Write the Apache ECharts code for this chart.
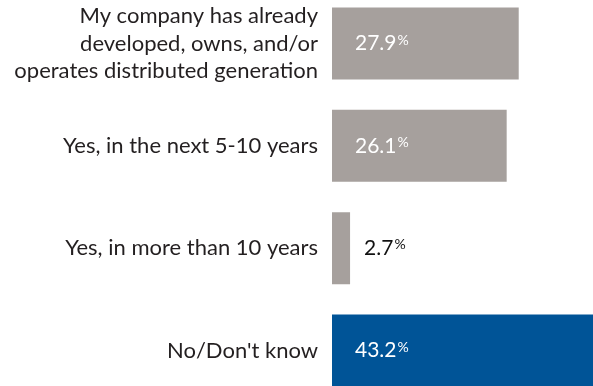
<!DOCTYPE html>
<html>
<head>
<meta charset="utf-8">
<script src="https://cdn.jsdelivr.net/npm/echarts@6/dist/echarts.min.js"></script>
<style>
  html, body { margin: 0; padding: 0; background: #fff; }
  #chart { width: 593px; height: 386px; }
</style>
</head>
<body>
<div id="chart"></div>
<script>
// Survey answers, top to bottom
const categories = [
  'My company has already\ndeveloped, owns, and/or\noperates distributed generation',
  'Yes, in the next 5-10 years',
  'Yes, in more than 10 years',
  "No/Don't know"
];
const shares = [27.9, 26.1, 2.7, 43.2];
const barColors = ['#a6a09d', '#a6a09d', '#a6a09d', '#005497'];
// Bars too short to hold their label get it outside, in dark text
const outsideLabel = [false, false, true, false];

const FONT = 'Lato';

const chart = echarts.init(document.getElementById('chart'), null, { renderer: 'canvas' });

function richStyle(color) {
  return {
    v: { color: color, fontSize: 21, fontFamily: FONT },
    p: { color: color, fontSize: 14, fontFamily: FONT, padding: [0, 0, 7, 1] }
  };
}

const data = shares.map((v, i) => ({
  value: v,
  itemStyle: { color: barColors[i] },
  label: outsideLabel[i]
    ? { position: 'right', distance: 14, rich: richStyle('#111') }
    : { position: 'insideLeft', distance: 23, rich: richStyle('#fff') }
}));

chart.setOption({
  animation: false,
  backgroundColor: '#ffffff',
  // categories sit on the grid edges, so the first and last bar centres
  // define the top and bottom of the grid
  grid: { left: 332, right: 0, top: 43.5, height: 307, containLabel: false },
  xAxis: {
    type: 'value', min: 0, max: 39,
    show: false
  },
  yAxis: {
    type: 'category',
    inverse: true,
    boundaryGap: false,
    data: categories,
    axisLine: { show: false },
    axisTick: { show: false },
    splitLine: { show: false },
    axisLabel: {
      margin: 14,
      color: '#231f20',
      fontFamily: FONT,
      fontSize: 22,
      lineHeight: 27.5,
      align: 'right'
    }
  },
  series: [{
    type: 'bar',
    data: data,
    barWidth: 72,
    clip: false,
    label: {
      show: true,
      formatter: p => '{v|' + p.value.toFixed(1) + '}{p|%}'
    }
  }]
});
</script>
</body>
</html>
